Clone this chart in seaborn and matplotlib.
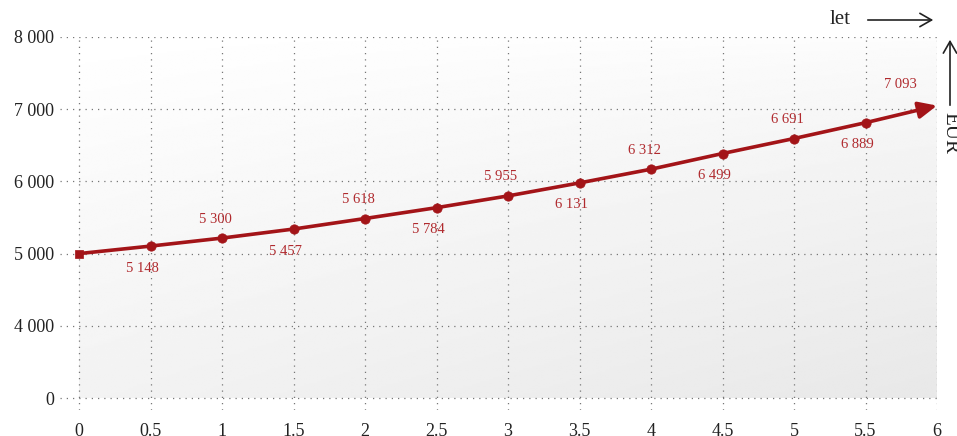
import seaborn as sns
import matplotlib.pyplot as plt
import matplotlib.patches as mpatches
import numpy as np
import pandas as pd

# data (drawn positions of the points)
years = [0, 0.5, 1, 1.5, 2, 2.5, 3, 3.5, 4, 4.5, 5, 5.5, 6]
amounts = [5000, 5104, 5215, 5340, 5486, 5636, 5799, 5979, 6169, 6386, 6594, 6813, 7050]
# printed value labels
amount_labels = ['', '5 148', '5 300', '5 457', '5 618', '5 784', '5 955',
                 '6 131', '6 312', '6 499', '6 691', '6 889', '7 093']
y_ticks = [3000, 4000, 5000, 6000, 7000, 8000]
y_tick_labels = ['0', '4 000', '5 000', '6 000', '7 000', '8 000']
x_tick_labels = ['0', '0.5', '1', '1.5', '2', '2.5', '3', '3.5', '4', '4.5', '5', '5.5', '6']

df = pd.DataFrame({'let': years, 'EUR': amounts})

sns.set_style('white')
plt.rcParams['font.family'] = ['Liberation Serif', 'DejaVu Serif']

LINE = '#a31418'
LABEL = '#b02a2e'
TEXT = '#222222'

fig = plt.figure(figsize=(9.57, 4.36), dpi=100)
ax = fig.add_axes([60 / 957, 1 - 410 / 436, 877 / 957, 373 / 436])

x_lo = -19 / (857 / 6)
y_lo = 3000 - 12 / 72.2 * 1000
ax.set_xlim(x_lo, 6.0)
ax.set_ylim(y_lo, 8000)

# soft grey gradient behind the data area
gx, gy = np.meshgrid(np.linspace(0, 1, 200), np.linspace(0, 1, 200))
grad = 1 - (0.55 * gy + 0.45 * gx * gy ** 0.3) * 0.09
ax.imshow(grad, extent=[0, 6, 3000, 8000], origin='upper', cmap='gray',
          vmin=0, vmax=1, aspect='auto', zorder=0, interpolation='bilinear')

# grid
ax.set_xticks(years)
ax.set_xticklabels(x_tick_labels)
ax.set_yticks(y_ticks)
ax.set_yticklabels(y_tick_labels)
ax.grid(True, linestyle=(0, (1, 4)), color='#777777', linewidth=0.9)
for s in ax.spines.values():
    s.set_visible(False)
ax.tick_params(axis='both', length=0, labelsize=13, colors=TEXT)
ax.tick_params(axis='x', pad=9)
ax.tick_params(axis='y', pad=4)

# line, markers and arrow head
sns.lineplot(data=df.iloc[:-1], x='let', y='EUR', color=LINE, linewidth=2.6, ax=ax, zorder=3)
sns.scatterplot(data=df.iloc[1:-1], x='let', y='EUR', color=LINE, s=45, edgecolor=LINE, ax=ax, zorder=4)
sns.scatterplot(data=df.iloc[:1], x='let', y='EUR', color=LINE, marker='s', s=40, edgecolor=LINE, ax=ax, zorder=4)
ax.annotate('', xy=(years[-1], amounts[-1]), xytext=(years[-2], amounts[-2]),
            arrowprops=dict(arrowstyle='-|>,head_length=1.1,head_width=0.5', color=LINE,
                            lw=2.6, shrinkA=0, shrinkB=0), zorder=5)
ax.set_xlabel('')
ax.set_ylabel('')

# value labels, alternating below / above (offsets in pixels)
for i in range(1, len(years)):
    if i == len(years) - 1:
        dx, dy = -37, 21
    elif i % 2 == 1:
        dx, dy = -8, -22
    else:
        dx, dy = -7, 19
    ax.annotate(amount_labels[i], (years[i], amounts[i]),
                xytext=(dx * 0.72, dy * 0.72), textcoords='offset points',
                ha='center', va='center', fontsize=10.5, color=LABEL, zorder=6)

# axis captions with arrows
fig.text(840 / 957, 1 - 20 / 436, 'let', ha='center', va='center', fontsize=15, color=TEXT)
fig.add_artist(mpatches.FancyArrowPatch(
    (865 / 957, 1 - 20 / 436), (936 / 957, 1 - 20 / 436), transform=fig.transFigure,
    arrowstyle='->,head_length=0.7,head_width=0.4', color=TEXT, lw=1.2, mutation_scale=12))
fig.text(950 / 957, 1 - 133 / 436, 'EUR', ha='center', va='center', rotation=270,
         fontsize=15, color=TEXT)
fig.add_artist(mpatches.FancyArrowPatch(
    (950 / 957, 1 - 108 / 436), (950 / 957, 1 - 37 / 436), transform=fig.transFigure,
    arrowstyle='->,head_length=0.7,head_width=0.4', color=TEXT, lw=1.2, mutation_scale=12))

fig.savefig('out.png', dpi=100)
